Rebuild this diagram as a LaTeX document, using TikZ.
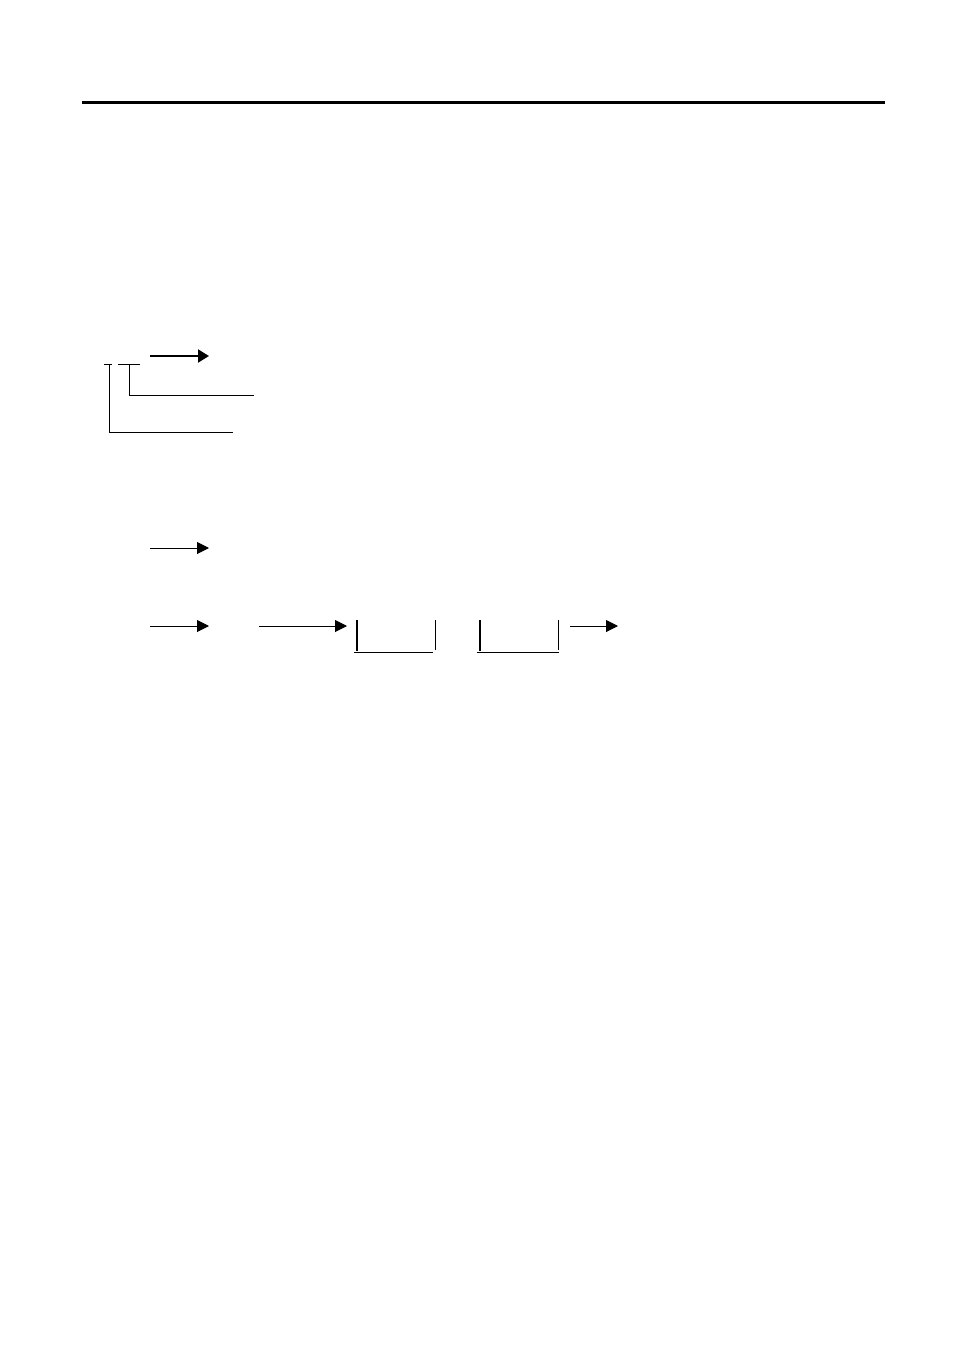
\documentclass[tikz,border=0pt]{standalone}
\usetikzlibrary{arrows.meta}
\begin{document}
\begin{tikzpicture}[x=1pt,y=-1pt,
  conn/.style={line width=1pt,-{Triangle[length=12pt,width=12pt]}},
  boldconn/.style={line width=2pt,-{Triangle[length=11pt,width=13pt]}},
  thin/.style={line width=1pt},
  thick2/.style={line width=2pt}]
\useasboundingbox (0,0) rectangle (954,1351);
% top rule
\draw[line width=3pt] (82,102.5) -- (885,102.5);
% upper group
\coordinate (a1s) at (150,356); \coordinate (a1e) at (209,356);
\draw[boldconn] (a1s) -- (a1e);
\coordinate (t1l) at (104,364); \coordinate (t1r) at (112,364);
\draw[thin] (t1l) -- (t1r);
\coordinate (t2l) at (118,364); \coordinate (t2r) at (140,364);
\draw[thin] (t2l) -- (t2r);
\coordinate (v1t) at (109,364); \coordinate (v1b) at (109,432); \coordinate (h1e) at (233,432);
\draw[thin] (v1t) -- (v1b) -- (h1e);
\coordinate (v2t) at (129,364); \coordinate (v2b) at (129,395); \coordinate (h2e) at (254,395);
\draw[thin] (v2t) -- (v2b) -- (h2e);
% row 1
\coordinate (r1s) at (150,548); \coordinate (r1e) at (209,548);
\draw[conn] (r1s) -- (r1e);
% row 2
\coordinate (r2s) at (150,626); \coordinate (r2e) at (209,626);
\draw[conn] (r2s) -- (r2e);
\coordinate (r3s) at (259,626); \coordinate (r3e) at (347,626);
\draw[conn] (r3s) -- (r3e);
% box 1
\draw[thick2] (357,620) -- (357,651);
\draw[thin] (435,620) -- (435,650);
\draw[thin] (354,652) -- (433,652);
% box 2
\draw[thick2] (480,620) -- (480,651);
\draw[thin] (558,620) -- (558,650);
\draw[thin] (477,652) -- (559,652);
\coordinate (r4s) at (570,626); \coordinate (r4e) at (618,626);
\draw[conn] (r4s) -- (r4e);
\end{tikzpicture}
\end{document}
